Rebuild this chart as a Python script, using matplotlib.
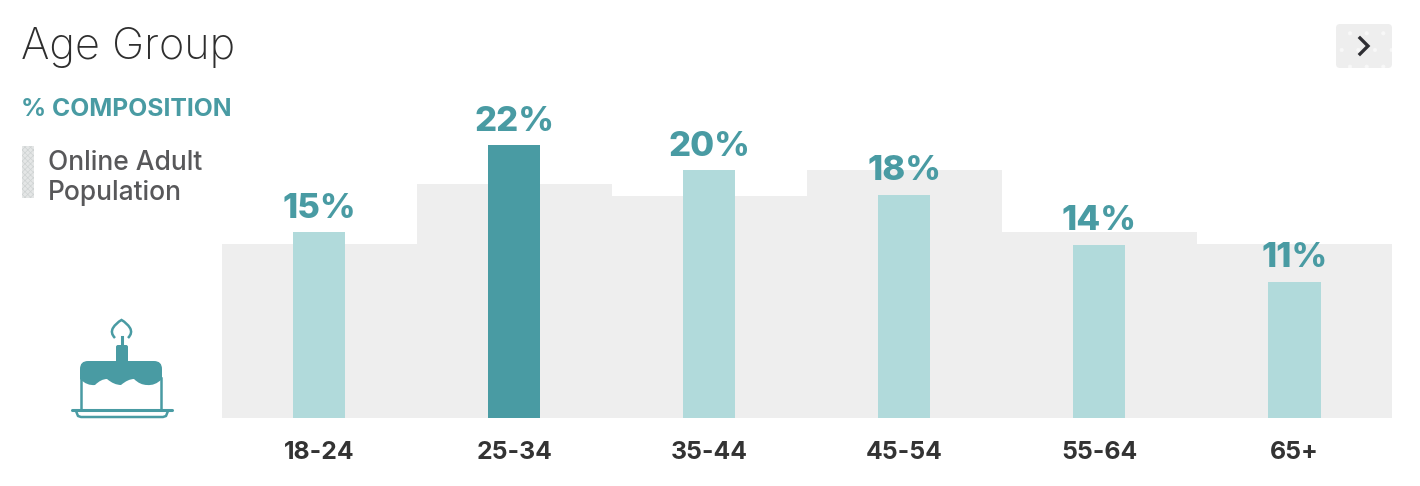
import matplotlib
matplotlib.use('Agg')
import matplotlib.pyplot as plt
from matplotlib.patches import FancyBboxPatch, PathPatch, Rectangle
from matplotlib.path import Path

plt.rcParams['font.family'] = ['Inter', 'Open Sans', 'DejaVu Sans']
plt.rcParams['hatch.linewidth'] = 0.5

age_groups = ['18-24', '25-34', '35-44', '45-54', '55-64', '65+']
composition = [15, 22, 20, 18, 14, 11]
population = [14.05, 18.9, 17.9, 20, 15, 14.05]
highlight = '25-34'

TEAL = '#499ba3'
LIGHT = '#b1dadb'
GRAY = '#eeeeee'
W, H = 1420, 486
PX_PER_PCT = 12.39

fig = plt.figure(figsize=(W / 100, H / 100), dpi=100, facecolor='white')

# overlay in pixel coordinates for title, legend, button and icon
ov = fig.add_axes([0, 0, 1, 1])
ov.set_xlim(0, W)
ov.set_ylim(H, 0)
ov.axis('off')

# chart axes: baseline at y=418
ax = fig.add_axes([222 / W, (H - 418) / H, 1170 / W, 318 / H])
ax.patch.set_alpha(0)
x = range(len(age_groups))
ax.bar(x, population, width=1.0, color=GRAY, linewidth=0)
colors = [TEAL if a == highlight else LIGHT for a in age_groups]
ax.bar(x, composition, width=0.267, color=colors, linewidth=0)
for i, v in enumerate(composition):
    ax.annotate(f'{v}%', (i, v), xytext=(0, 5.5), textcoords='offset points', ha='center',
                va='bottom', color=TEAL, fontsize=25, fontweight=800)
ax.set_xlim(-0.4975, 5.5)
ax.set_ylim(0, 318 / PX_PER_PCT)
ax.set_yticks([])
ax.set_xticks(list(x))
ax.set_xticklabels(age_groups, fontsize=17.8, fontweight='bold', color='#333333')
ax.tick_params(axis='x', length=0, pad=16.5)
for s in ax.spines.values():
    s.set_visible(False)

# header and legend
ov.text(21, 47, 'Age Group', fontsize=31.2, fontweight='light', color='#2e2e2e', va='center')
ov.text(21, 109.5, '% COMPOSITION', fontsize=17.8, fontweight='bold', color=TEAL, va='center')
ov.add_patch(Rectangle((22, 146), 12, 52, facecolor='#e4e6e6', edgecolor='#cfd3d3',
                       hatch='xxxxxx', linewidth=0))
ov.text(48, 163, 'Online Adult', fontsize=19, fontweight=500, color='#58585a', va='center')
ov.text(48, 193, 'Population', fontsize=19, fontweight=500, color='#58585a', va='center')

# button
ov.add_patch(FancyBboxPatch((1339, 27), 50, 38, boxstyle='round,pad=3,rounding_size=4',
                            facecolor='#eeeeee', edgecolor='#f8f8f8', hatch='.', linewidth=0))
ov.plot([1360, 1368, 1360], [38, 46, 54], color='#2e2e33', lw=2.4, solid_joinstyle='miter')

# cake icon
frosting = Path([(80, 369), (80, 361), (88, 361), (154, 361), (162, 361), (162, 369), (162, 379),
                 (155, 386), (147, 385), (140, 385), (134, 379), (128, 379), (121, 385),
                 (114, 385), (107, 379), (101, 379), (95, 385), (87, 386), (80, 379), (80, 369)],
                [1, 3, 3, 2, 3, 3, 2, 3, 3, 3, 3, 3, 3, 3, 3, 3, 3, 3, 3, 2])
ov.add_patch(PathPatch(frosting, facecolor=TEAL, linewidth=0))
ov.plot([81, 81], [378, 409], color=TEAL, lw=1.8)
ov.plot([160.5, 160.5], [378, 409], color=TEAL, lw=1.8)
ov.plot([72, 172], [409.5, 409.5], color=TEAL, lw=2.2, solid_capstyle='round')
ov.plot([76, 78, 81, 163, 166, 168], [411, 416, 417, 417, 416, 411], color=TEAL, lw=1.8)
ov.add_patch(FancyBboxPatch((118, 347), 8, 16, boxstyle='round,pad=2,rounding_size=2',
                            facecolor=TEAL, linewidth=0))
ov.plot([122, 122], [337, 346], color=TEAL, lw=2.2)
flame = Path([(115, 338), (110, 333), (113, 328), (116, 323), (121.5, 320), (127, 323), (130, 328),
              (133, 333), (128, 338)],
             [1, 3, 3, 3, 3, 3, 3, 3, 3])
ov.add_patch(PathPatch(flame, facecolor='none', edgecolor=TEAL, lw=1.8))

fig.savefig('out.png', dpi=100)
